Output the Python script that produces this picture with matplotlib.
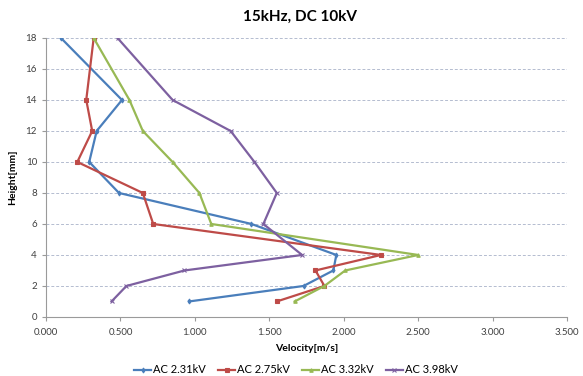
import matplotlib
matplotlib.use("Agg")
import matplotlib.pyplot as plt
from matplotlib.ticker import FormatStrFormatter, MultipleLocator

plt.rcParams['font.family'] = ['Lato', 'DejaVu Sans']

heights = [1, 2, 3, 4, 6, 8, 10, 12, 14, 18]
series_names = ["AC 2.31kV", "AC 2.75kV", "AC 3.32kV", "AC 3.98kV"]
v_231 = [0.96, 1.73, 1.93, 1.95, 1.38, 0.49, 0.29, 0.34, 0.51, 0.10]
v_275 = [1.55, 1.87, 1.81, 2.25, 0.72, 0.65, 0.21, 0.31, 0.27, 0.32]
v_332 = [1.67, 1.87, 2.01, 2.50, 1.11, 1.03, 0.85, 0.65, 0.56, 0.32]
v_398 = [0.44, 0.54, 0.93, 1.72, 1.46, 1.55, 1.40, 1.24, 0.85, 0.48]

colors = ["#4A7EBB", "#BE4B48", "#98B954", "#7D60A0"]
markers = ["d", "s", "^", "x"]

fig = plt.figure(figsize=(5.83, 3.76), dpi=100)
ax = fig.add_axes([0.079, 0.157, 0.8936, 0.742])

for vals, name, c, m in zip([v_231, v_275, v_332, v_398], series_names, colors, markers):
    ax.plot(vals, heights, color=c, lw=1.6, marker=m, ms=2.5, mew=0.8, label=name)

ax.set_xlim(0, 3.5)
ax.set_ylim(0, 18)
ax.xaxis.set_major_locator(MultipleLocator(0.5))
ax.yaxis.set_major_locator(MultipleLocator(2))
ax.xaxis.set_major_formatter(FormatStrFormatter('%.3f'))
ax.yaxis.grid(True, linestyle=(0, (3, 2)), color='#B4BCD0', lw=0.7)
ax.set_axisbelow(True)
for s in ['top', 'right']:
    ax.spines[s].set_visible(False)
for s in ['left', 'bottom']:
    ax.spines[s].set_color('#9A9A9A')
    ax.spines[s].set_linewidth(0.8)
ax.tick_params(axis='both', labelsize=7, colors='#404040', length=3, width=0.8, color='#9A9A9A')
ax.tick_params(axis='x', pad=5)

ax.set_xlabel("Velocity[m/s]", fontsize=7.5, fontweight='bold', labelpad=5)
ax.set_ylabel("Height[mm]", fontsize=7.5, fontweight='bold', labelpad=6)
fig.text(0.515, 0.955, "15kHz, DC 10kV", ha='center', va='center', fontsize=11, fontweight='bold')

ax.legend(loc='center', bbox_to_anchor=(0.48, -0.19), ncol=4, frameon=False,
          fontsize=8, handlelength=1.5, handletextpad=0.2, columnspacing=1.1)

fig.savefig("out.png", dpi=100)
